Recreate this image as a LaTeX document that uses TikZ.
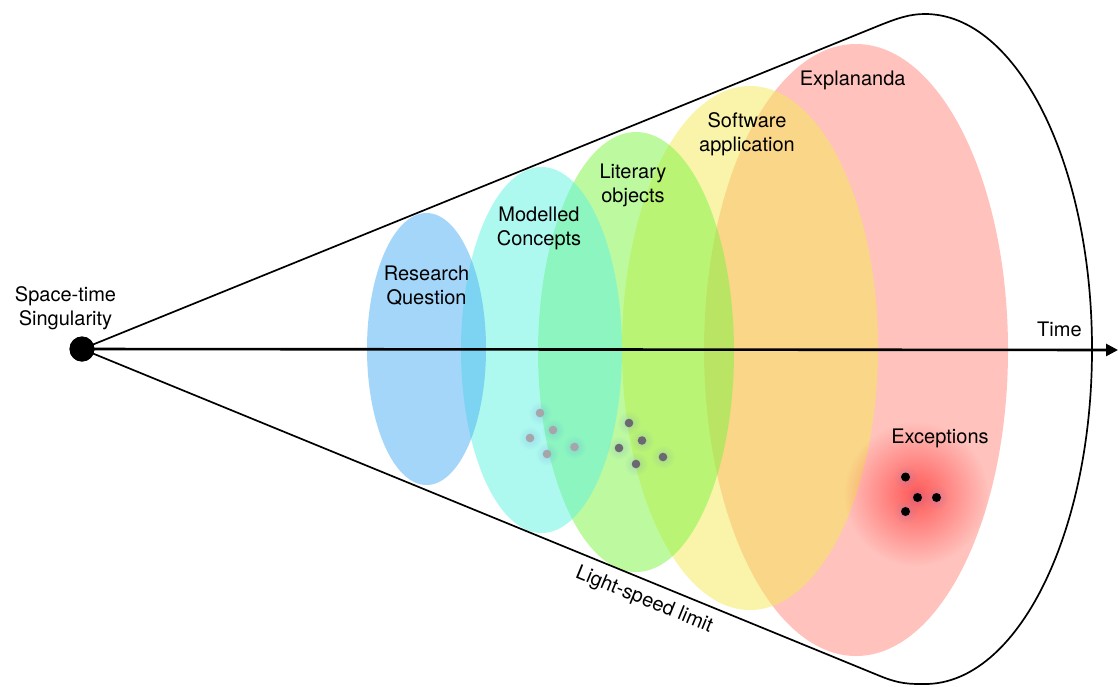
\documentclass[tikz,border=0pt]{standalone}
\usepackage{fontspec}
\setmainfont{TeX Gyre Heros}
\usetikzlibrary{arrows.meta,fadings}
\tikzfading[name=glowfade, inner color=transparent!0, outer color=transparent!100]

\definecolor{rqblue}{RGB}{75,175,245}
\definecolor{mccyan}{RGB}{95,245,225}
\definecolor{logreen}{RGB}{125,245,65}
\definecolor{swyellow}{RGB}{245,235,85}
\definecolor{exred}{RGB}{255,135,125}
\definecolor{dotlight}{RGB}{165,165,170}
\definecolor{dotdark}{RGB}{108,104,114}
\definecolor{glowred}{RGB}{255,45,45}
\definecolor{halo}{RGB}{80,110,230}

\begin{document}
\begin{tikzpicture}[x=1pt,y=-1pt,
  lbl/.style={font=\fontsize{20}{24}\selectfont, align=center, inner sep=0pt},
  region/.style={fill opacity=0.5},
  cone/.style={line width=1.7pt, line join=round},
  timeaxis/.style={line width=2.6pt, -{Triangle[length=12pt,width=12pt]}},
  ldot/.style={circle, fill=dotlight, minimum size=8.6pt, inner sep=0pt},
  ddot/.style={circle, fill=dotdark, minimum size=8.6pt, inner sep=0pt},
  bdot/.style={circle, fill=black, minimum size=9pt, inner sep=0pt},
  halofill/.style={fill=halo, fill opacity=0.2, path fading=glowfade},
]
\useasboundingbox (0,0) rectangle (1118,686);
\fill[white] (0,0) rectangle (1118,686);

% nested regions, outermost first
\fill[exred, region]    (856,350) ellipse [x radius=152, y radius=306];
\fill[swyellow, region] (750,348) ellipse [x radius=128, y radius=262];
\fill[logreen, region]  (636,352) ellipse [x radius=98,  y radius=220];
\fill[mccyan, region]   (541.5,350) ellipse [x radius=80.5, y radius=183];
\fill[rqblue, region]   (426.5,349) ellipse [x radius=59.5, y radius=136];

% glow around the exceptions
\fill[glowred, fill opacity=0.7, path fading=glowfade] (916,494) circle (72);

% soft halos under the point clusters
\foreach \p in {(540,413),(553,430),(530,438),(547,454),(574.5,447),
                (629,423),(642,440.5),(619,448),(636,464),(663,457),
                (905.5,477),(917.5,497.5),(936.5,497.5),(905.5,511.5)}
  \fill[halofill] \p circle (12);

% point clusters
\node[ldot] (m1) at (540,413) {};
\node[ldot] (m2) at (553,430) {};
\node[ldot] (m3) at (530,438) {};
\node[ldot] (m4) at (547,454) {};
\node[ldot] (m5) at (574.5,447) {};
\node[ddot] (l1) at (629,423) {};
\node[ddot] (l2) at (642,440.5) {};
\node[ddot] (l3) at (619,448) {};
\node[ddot] (l4) at (636,464) {};
\node[ddot] (l5) at (663,457) {};
\node[bdot] (e1) at (905.5,477) {};
\node[bdot] (e2) at (917.5,497.5) {};
\node[bdot] (e3) at (936.5,497.5) {};
\node[bdot] (e4) at (905.5,511.5) {};

% singularity and light cone
\node[circle, fill=black, minimum size=25pt, inner sep=0pt] (sing) at (82,349) {};
\coordinate (ctop) at (878,26);
\coordinate (cbot) at (880,676);
\coordinate (tend) at (1118,350);
\draw[cone] (cbot) -- (sing.center) -- (ctop)
  .. controls (898,17.9) and (910,14) .. (925,14)
  arc[start angle=-90, end angle=90, x radius=167, y radius=335]
  .. controls (910,684) and (900,684.2) .. (cbot);
\draw[timeaxis] (sing.center) -- (tend);
\node[circle, fill=black, minimum size=25pt, inner sep=0pt] at (sing) {};

% labels
\node[lbl] (lsing) at (65.5,308) {Space-time\\Singularity};
\node[lbl] (lrq)   at (426.5,286) {Research\\Question};
\node[lbl] (lmc)   at (539,228) {Modelled\\Concepts};
\node[lbl] (llo)   at (633,185.5) {Literary\\objects};
\node[lbl] (lsw)   at (747,134.5) {Software\\application};
\node[lbl, anchor=base] (lex)  at (852.7,85) {Explananda};
\node[lbl, anchor=base] (lexc) at (940,443.3) {Exceptions};
\node[lbl, anchor=base] (ltime) at (1059.4,336.7) {Time};
\node[lbl, rotate=-22.3] (llight) at (644,600) {Light-speed limit};
\end{tikzpicture}
\end{document}
